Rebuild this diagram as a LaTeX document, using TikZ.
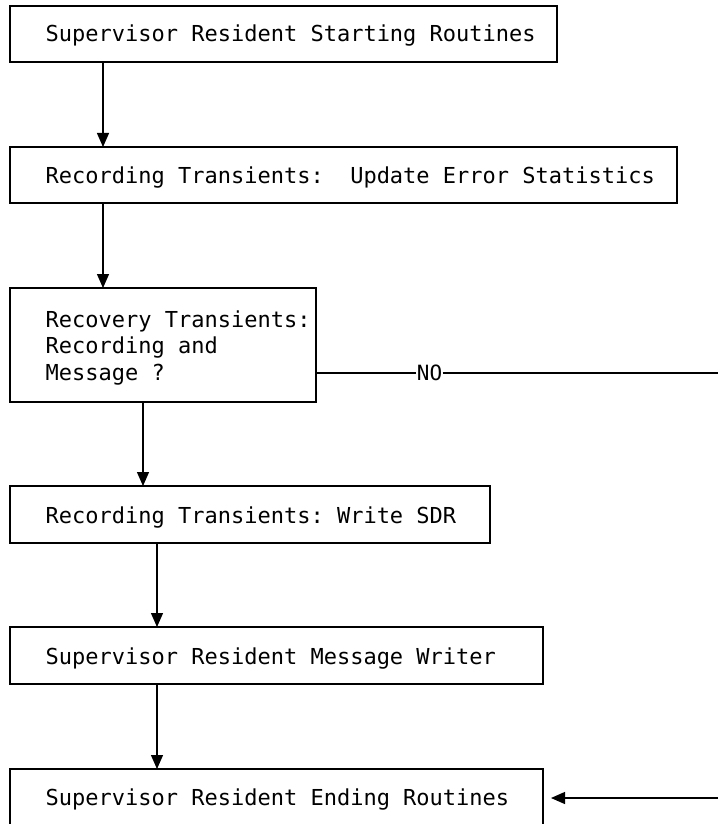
\documentclass[tikz,border=0pt]{standalone}
\usepackage{fontspec}
\setmonofont{DejaVu Sans Mono}
\usetikzlibrary{arrows.meta}

\begin{document}
\begin{tikzpicture}[x=1pt,y=-1pt,
  line width=1.3pt,
  box/.style={draw, rectangle, inner sep=0pt, outer sep=0pt, anchor=north west},
  lbl/.style={anchor=base west, inner sep=0pt, font=\ttfamily\fontsize{22}{26.5}\selectfont},
  arr/.style={-{Triangle[length=14pt,width=12pt]}}]
  \useasboundingbox (0,0) rectangle (718,824);

  % process boxes
  \node[box, minimum width=547pt, minimum height=56pt] (b1) at (10,6) {};
  \node[box, minimum width=667pt, minimum height=56pt] (b2) at (10,147) {};
  \node[box, minimum width=306pt, minimum height=114pt] (b3) at (10,288) {};
  \node[box, minimum width=480pt, minimum height=57pt] (b4) at (10,486) {};
  \node[box, minimum width=533pt, minimum height=57pt] (b5) at (10,627) {};
  \node[box, minimum width=533pt, minimum height=60pt] (b6) at (10,769) {};

  % box texts
  \node[lbl] (t1) at (45,42) {Supervisor Resident Starting Routines};
  \node[lbl] (t2) at (45,183) {Recording Transients:\ \ Update Error Statistics};
  \node[lbl] (t3a) at (45,327) {Recovery Transients:};
  \node[lbl] (t3b) at (45,353.5) {Recording and};
  \node[lbl] (t3c) at (45,380) {Message ?};
  \node[lbl] (t4) at (45,523) {Recording Transients: Write SDR};
  \node[lbl] (t5) at (45,664) {Supervisor Resident Message Writer};
  \node[lbl] (t6) at (45,805) {Supervisor Resident Ending Routines};

  % main flow
  \draw[arr] ([xshift=93pt]b1.south west) -- ([xshift=93pt]b2.north west);
  \draw[arr] ([xshift=93pt]b2.south west) -- ([xshift=93pt]b3.north west);
  \draw[arr] ([xshift=133pt]b3.south west) -- ([xshift=133pt]b4.north west);
  \draw[arr] ([xshift=147pt]b4.south west) -- ([xshift=147pt]b5.north west);
  \draw[arr] ([xshift=147pt]b5.south west) -- ([xshift=147pt]b6.north west);

  % NO branch
  \node[inner sep=0.5pt, outer sep=0pt, font=\ttfamily\fontsize{21}{24}\selectfont] (no) at (429.5,373) {NO};
  \coordinate (noend) at (718,373);
  \coordinate (retstart) at (718,798);
  \draw (b3.east |- no.west) -- (no.west);
  \draw (no.east) -- (noend);
  \draw[arr] (retstart) -- ([xshift=8pt]b6.east |- retstart);
\end{tikzpicture}
\end{document}
